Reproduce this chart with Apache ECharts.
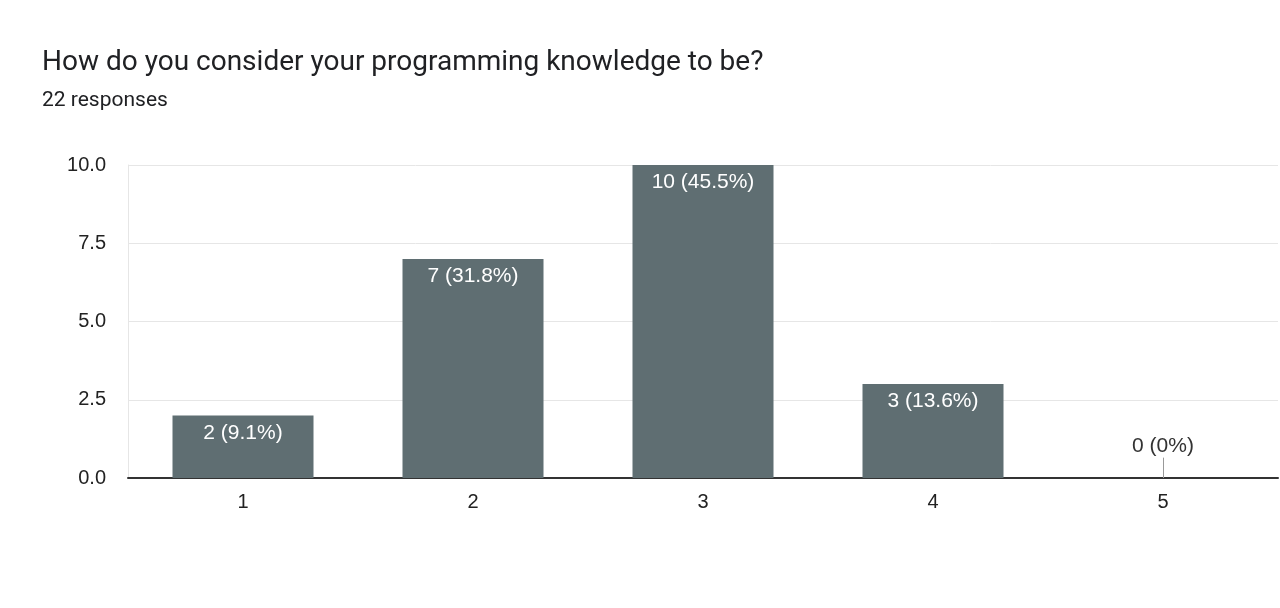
<!DOCTYPE html>
<html>
<head>
    <meta charset="utf-8">
    <title>Programming knowledge</title>
    <script src="https://cdn.jsdelivr.net/npm/echarts@6/dist/echarts.min.js"></script>
    <style>
        html, body {
            margin: 0;
            padding: 0;
            background: #fff;
        }

        #chart {
            width: 1280px;
            height: 608px;
        }
    </style>
</head>
<body>
<div id="chart"></div>
<script type="text/javascript">
    // 数据
    var categories = ['1', '2', '3', '4', '5'];
    var counts = [2, 7, 10, 3, 0];
    var percents = ['9.1%', '31.8%', '45.5%', '13.6%', '0%'];
    var yTicks = [0, 2.5, 5, 7.5, 10];

    var barColor = '#5f6e72';
    var labelFont = '"Liberation Sans", Arial, sans-serif';

    var seriesData = counts.map(function (v, i) {
        var item = {value: v};
        if (v === 0) {
            item.label = {
                position: 'top',
                distance: 21,
                color: '#333'
            };
        }
        return item;
    });

    var myChart = echarts.init(document.getElementById('chart'));
    myChart.setOption({
        animation: false,
        textStyle: {fontFamily: labelFont},
        title: {
            text: 'How do you consider your programming knowledge to be?',
            subtext: '22 responses',
            left: 37,
            top: 44,
            itemGap: 13,
            textStyle: {fontSize: 28, fontWeight: 'normal', color: '#202124', fontFamily: 'Roboto'},
            subtextStyle: {fontSize: 21, color: '#202124', fontFamily: 'Roboto'}
        },
        grid: {left: 128, right: 2, top: 165, bottom: 130},
        xAxis: {
            type: 'category',
            data: categories,
            axisTick: {show: false},
            axisLine: {lineStyle: {color: '#333', width: 2}},
            axisLabel: {fontSize: 20, color: '#222', margin: 14, fontFamily: labelFont}
        },
        yAxis: {
            type: 'value',
            min: yTicks[0],
            max: yTicks[yTicks.length - 1],
            interval: yTicks[1] - yTicks[0],
            axisLine: {show: true, lineStyle: {color: '#e6e6e6'}},
            splitLine: {lineStyle: {color: '#e6e6e6'}},
            axisLabel: {
                fontSize: 20,
                color: '#222',
                margin: 22,
                fontFamily: labelFont,
                formatter: function (v) { return v.toFixed(1); }
            }
        },
        series: [{
            type: 'bar',
            barWidth: 141,
            data: seriesData,
            itemStyle: {color: barColor},
            label: {
                show: true,
                position: 'insideTop',
                distance: 7,
                fontSize: 21,
                color: '#fff',
                fontFamily: labelFont,
                formatter: function (p) {
                    return counts[p.dataIndex] + ' (' + percents[p.dataIndex] + ')';
                }
            },
            markLine: {
                silent: true,
                symbol: 'none',
                label: {show: false},
                lineStyle: {color: '#999', type: 'solid', width: 1},
                data: [[{coord: ['5', 0]}, {coord: ['5', 0.65]}]]
            }
        }]
    });
</script>
</body>
</html>
